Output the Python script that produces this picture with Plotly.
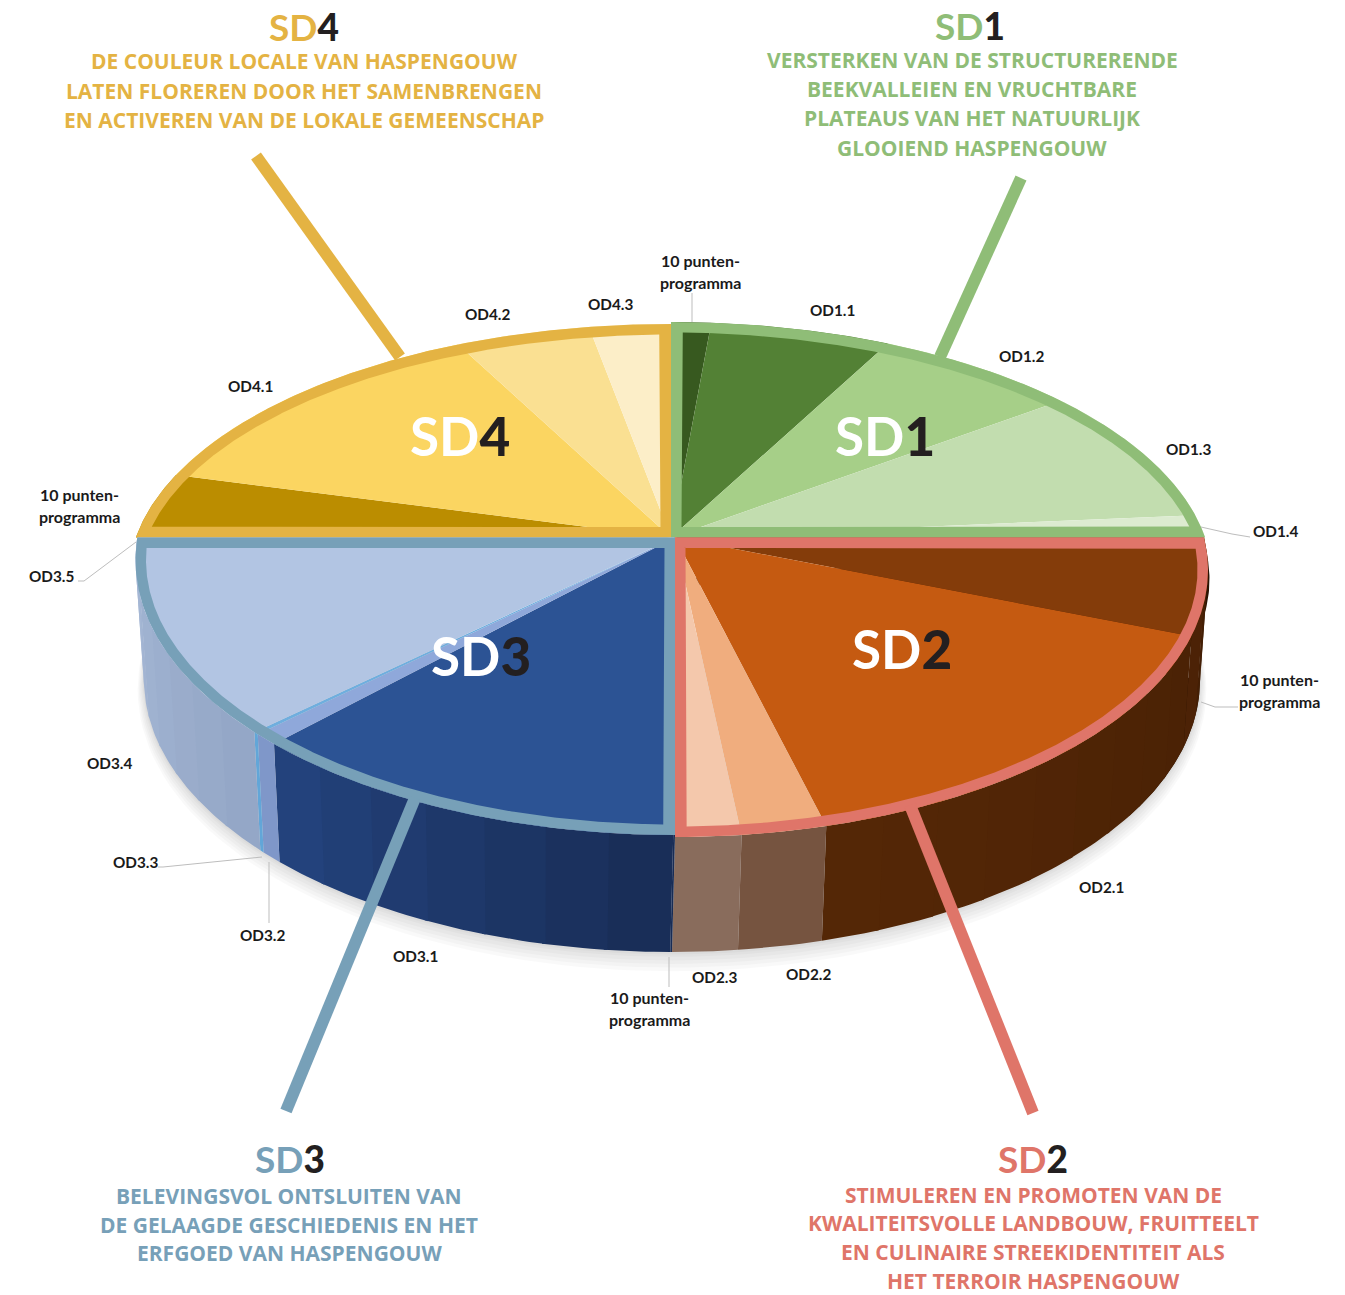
import math
import plotly.graph_objects as go

# ---------- data ----------
sd1_labels = ["10 punten-\nprogramma", "OD1.1", "OD1.2", "OD1.3", "OD1.4"]
sd1_values = [5.3, 24.0, 27.8, 36.6, 6.3]
sd2_labels = ["10 punten-\nprogramma", "OD2.1", "OD2.2", "OD2.3"]
sd2_values = [22.0, 61.0, 9.6, 7.4]
sd3_labels = ["10 punten-\nprogramma", "OD3.1", "OD3.2", "OD3.3", "OD3.4", "OD3.5"]
sd3_values = [0.2, 50.5, 2.8, 0.6, 45.4, 0.5]
sd4_labels = ["10 punten-\nprogramma", "OD4.1", "OD4.2", "OD4.3"]
sd4_values = [18.2, 53.1, 17.9, 10.8]

sd1_title = ["VERSTERKEN VAN DE STRUCTURERENDE", "BEEKVALLEIEN EN VRUCHTBARE",
             "PLATEAUS VAN HET NATUURLIJK", "GLOOIEND HASPENGOUW"]
sd2_title = ["STIMULEREN EN PROMOTEN VAN DE", "KWALITEITSVOLLE LANDBOUW, FRUITTEELT",
             "EN CULINAIRE STREEKIDENTITEIT ALS", "HET TERROIR HASPENGOUW"]
sd3_title = ["BELEVINGSVOL ONTSLUITEN VAN", "DE GELAAGDE GESCHIEDENIS EN HET",
             "ERFGOED VAN HASPENGOUW"]
sd4_title = ["DE COULEUR LOCALE VAN HASPENGOUW", "LATEN FLOREREN DOOR HET SAMENBRENGEN",
             "EN ACTIVEREN VAN DE LOKALE GEMEENSCHAP"]

# ---------- styles ----------
W, H = 1345, 1295
FONT = "Lato"
BODY_FONT = "Open Sans"
INK = "#231F20"
LX, LY, LA, LB = 672, 680, 528, 272      # lower rim of the disc
GAP = 10.5

Q = {
    "SD1": dict(ax=671, ay=537.5, ey=579.5, a=541.4, b=257.5, ring="#8FBD77", sx=1, sy=-1,
                values=sd1_values,
                colors=["#37591F", "#538135", "#A6CF88", "#C2DDAF", "#DCEBD0"]),
    "SD2": dict(ax=675, ay=537.5, ey=570, a=533, b=267, ring="#DF7569", sx=1, sy=1,
                values=sd2_values,
                colors=["#843C0A", "#C55A11", "#F0AD7E", "#F4C8AC"],
                side=[("#3A1A04", "#4F2406"), ("#4A2205", "#552706"),
                      ("#7B5945", "#70503C"), ("#866858", "#8C6F60")]),
    "SD3": dict(ax=675, ay=537.5, ey=560, a=539.5, b=275, ring="#77A0B8", sx=-1, sy=1,
                values=sd3_values,
                colors=["#2C5394", "#2C5394", "#8FA8DA", "#6FAEDE", "#B2C5E3", "#B2C5E3"],
                side=[("#182C55", "#182C55"), ("#182C55", "#24447F"), ("#7F97C9", "#7F97C9"),
                      ("#62A6D8", "#62A6D8"), ("#93A6C6", "#A6B8D5"), ("#A6B8D5", "#A6B8D5")]),
    "SD4": dict(ax=671, ay=537.5, ey=579.5, a=542.5, b=255.5, ring="#E4B343", sx=-1, sy=-1,
                values=sd4_values,
                colors=["#BB8D00", "#FBD561", "#FAE092", "#FCEEC8"]),
}
RIM = dict(ax=672, ey=579.5, a=537.5, b=257)

LEADERS = [((1021, 178), (940, 357), "#8FBD77"), ((256, 156), (400, 357), "#E4B343"),
           ((415, 798), (286, 1111), "#77A0B8"), ((910, 805), (1033, 1113), "#DF7569")]

THIN = [[(692, 293), (692, 322)], [(1201, 527), (1232, 534), (1250, 537)],
        [(1201, 702), (1215, 707), (1238, 707)], [(136, 542), (84, 581), (78, 581)],
        [(262, 857), (163, 867), (158, 867)], [(269, 862), (269, 923)], [(669, 957), (669, 987)]]

LABEL_POS = {
    "SD1": [(700, 260), (832, 310), (1021, 356), (1188, 449), (1275, 531)],
    "SD2": [(1279, 679), (1101, 887), (808, 974), (714, 977)],
    "SD3": [(649, 997), (415, 956), (262, 935), (135, 862), (109, 763), (51, 576)],
    "SD4": [(79, 494), (250, 386), (487, 314), (610, 304)],
}
PIE_TITLE_POS = {"SD1": (885, 435), "SD2": (902, 648), "SD3": (481, 655), "SD4": (460, 435)}
HEAD_POS = {"SD1": (970, 25), "SD2": (1033, 1158), "SD3": (290, 1158), "SD4": (304, 26)}
BODY_POS = {"SD1": (972, [60, 89, 118, 148]), "SD2": (1033, [1194.5, 1223.2, 1251.9, 1280.6]),
            "SD3": (289, [1196, 1224.7, 1253.4]), "SD4": (304, [61, 91, 120])}


# ---------- geometry helpers ----------
def t_range(q):
    T = math.degrees(math.acos((q["ey"] - q["ay"]) / q["b"]))
    if q["sx"] > 0 and q["sy"] < 0:
        return 0.0, T
    if q["sx"] > 0:
        return T, 180.0
    if q["sy"] > 0:
        return 180.0, 360.0 - T
    return 360.0 - T, 360.0


def pt(q, t, offset=0.0):
    r = math.radians(t)
    s, c = math.sin(r), math.cos(r)
    x, y = q["a"] * s, -q["b"] * c
    nx, ny = q["b"] * s, -q["a"] * c
    n = math.hypot(nx, ny)
    return (q["ax"] + x - offset * nx / n, q["ey"] + y - offset * ny / n)


def arc(q, t0, t1, step=0.5, offset=0.0):
    n = max(2, int(abs(t1 - t0) / step) + 1)
    return [pt(q, t0 + (t1 - t0) * i / (n - 1), offset) for i in range(n)]


def low(t):
    r = math.radians(min(max(t, 90.0), 270.0))
    return (LX + LA * math.sin(r), LY - LB * math.cos(r))


def hex2rgb(c):
    return tuple(int(c[i:i + 2], 16) for i in (1, 3, 5))


def mix(c0, c1, f):
    a, b = hex2rgb(c0), hex2rgb(c1)
    return "rgb(%d,%d,%d)" % tuple(round(a[i] + (b[i] - a[i]) * f) for i in range(3))


fig = go.Figure()


def poly(pts, color, name):
    fig.add_trace(go.Scatter(x=[p[0] for p in pts], y=[p[1] for p in pts], mode="lines", fill="toself",
                             fillcolor=color, line=dict(width=0, color=color), name=name,
                             hoverinfo="name", showlegend=False))


# soft shadow under the disc
for grow in (16, 13, 10, 7, 4, 2):
    pts = [(LX + (LA + grow * 0.4) * math.sin(math.radians(t)),
            LY + grow * 0.6 + (LB + grow * 0.6) * math.cos(math.radians(t))) for t in range(-100, 101, 2)]
    poly(pts, "rgba(0,0,0,0.022)", "shadow")

# dark silhouette edge at the right-hand side of the wall
poly([(RIM["ax"], RIM["ey"])] + arc(RIM, 82, 120) + [low(120 - i * 3) for i in range(11)], "#2A1303", "rim")

# side walls: overlapping strips give a gradient without seams
for key, labels in (("SD2", sd2_labels), ("SD3", sd3_labels)):
    q = Q[key]
    t0, t1 = t_range(q)
    total = sum(q["values"])
    cur = t0
    rev = []
    for v, lab, cols in zip(q["values"], labels, q["side"]):
        nxt = cur + (t1 - t0) * v / total
        rev.append((cur, nxt, lab, cols))
        cur = nxt
    for cur, nxt, lab, (c0, c1) in rev:
        strips = max(1, int((nxt - cur) / 6))
        for s in range(strips):
            a0 = cur + (nxt - cur) * s / strips
            a1 = cur + (nxt - cur) * (s + 1) / strips
            if s < strips - 1:
                a1 += 0.4
            top = arc(q, a0, a1, 0.5)
            bot = [low(a1 - (a1 - a0) * i / 8) for i in range(9)]
            poly(top + bot, mix(c0, c1, (s + 0.5) / strips), key + " side " + lab.replace("\n", ""))

# top faces: wedges, then the coloured frame
for key, labels in (("SD1", sd1_labels), ("SD4", sd4_labels), ("SD3", sd3_labels), ("SD2", sd2_labels)):
    q = Q[key]
    t0, t1 = t_range(q)
    total = sum(q["values"])
    apex = (q["ax"], q["ay"])
    cur = t0
    for v, lab, col in zip(q["values"], labels, q["colors"]):
        nxt = cur + (t1 - t0) * v / total
        poly([apex] + arc(q, cur, nxt) + [apex], col, key + " " + lab.replace("\n", ""))
        cur = nxt
    outer = [apex] + arc(q, t0, t1, 0.25) + [apex]
    ia = (q["ax"] + q["sx"] * GAP, q["ay"] + q["sy"] * GAP)
    inner = [p for p in arc(q, t0 - 5, t1 + 5, 0.25, GAP)
             if q["sx"] * (p[0] - ia[0]) >= 0 and q["sy"] * (p[1] - ia[1]) >= 0]
    loop = [ia] + inner + [ia]
    poly(outer + loop[::-1], q["ring"], key + " frame")

# ---------- leaders and text ----------
shapes = []
for (p0, p1, col) in LEADERS:
    shapes.append(dict(type="line", xref="x", yref="y", x0=p0[0], y0=p0[1], x1=p1[0], y1=p1[1],
                       line=dict(color=col, width=12), layer="above"))
for path in THIN:
    d = "M" + " L".join("%g,%g" % p for p in path)
    shapes.append(dict(type="path", xref="x", yref="y", path=d, line=dict(color="#BDBDBD", width=1), layer="above"))

ann = []


def text(x, y, s, size, color, weight=400, family=FONT):
    ann.append(dict(x=x, y=y, xref="x", yref="y", text=s, showarrow=False, xanchor="center", yanchor="middle",
                    font=dict(family=family, size=size, color=color, weight=weight)))


DIGIT = '<span style="color:%s;font-weight:900">%s</span>'
for key, labels in (("SD1", sd1_labels), ("SD2", sd2_labels), ("SD3", sd3_labels), ("SD4", sd4_labels)):
    for lab, (x, y) in zip(labels, LABEL_POS[key]):
        lines = lab.split("\n")
        for i, line in enumerate(lines):
            text(x, y + i * 22, line, 16 if len(lines) > 1 else 15.3, "#1A1A1A", 700)
    digit = key[-1]
    px, py = PIE_TITLE_POS[key]
    text(px, py, "SD" + DIGIT % (INK, digit), 53, "#FFFFFF", 700)
    hx, hy = HEAD_POS[key]
    text(hx, hy, "SD" + DIGIT % (INK, digit), 37, Q[key]["ring"], 700)

for key, lines in (("SD1", sd1_title), ("SD2", sd2_title), ("SD3", sd3_title), ("SD4", sd4_title)):
    bx, ys = BODY_POS[key]
    for line, y in zip(lines, ys):
        text(bx, y, line, 21, Q[key]["ring"], 700, BODY_FONT)

fig.update_layout(
    width=W, height=H, margin=dict(l=0, r=0, t=0, b=0), autosize=False,
    paper_bgcolor="#FFFFFF", plot_bgcolor="#FFFFFF", showlegend=False,
    xaxis=dict(range=[0, W], visible=False, fixedrange=True),
    yaxis=dict(range=[H, 0], visible=False, fixedrange=True),
    shapes=shapes, annotations=ann,
)
fig.write_html("out.html", config=dict(displayModeBar=False),
               post_script="document.body.style.margin='0';document.body.style.overflow='hidden';")
